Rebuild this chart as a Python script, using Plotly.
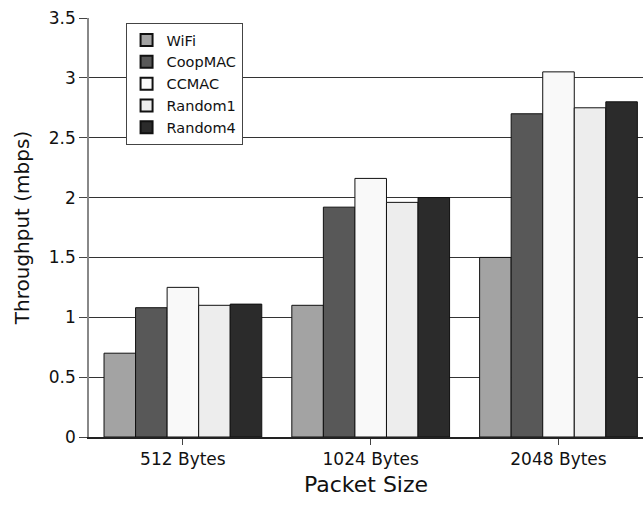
import plotly.graph_objects as go

categories = ["512 Bytes", "1024 Bytes", "2048 Bytes"]
series_names = ["WiFi", "CoopMAC", "CCMAC", "Random1", "Random4"]
wifi = [0.70, 1.10, 1.50]
coopmac = [1.08, 1.92, 2.70]
ccmac = [1.25, 2.16, 3.05]
random1 = [1.10, 1.96, 2.75]
random4 = [1.11, 2.00, 2.80]
values = [wifi, coopmac, ccmac, random1, random4]
colors = ["#a3a3a3", "#585858", "#f9f9f9", "#ededed", "#2b2b2b"]
y_ticks = [0, 0.5, 1, 1.5, 2, 2.5, 3, 3.5]
y_tick_text = ["0", "0.5", "1", "1.5", "2", "2.5", "3", "3.5"]

fig = go.Figure()
for name, vals, col in zip(series_names, values, colors):
    fig.add_trace(go.Bar(
        name=name, x=categories, y=vals,
        marker=dict(color=col, line=dict(color="#111111", width=1)),
    ))

font_family = "DejaVu Sans, Verdana, sans-serif"
fig.update_layout(
    width=643, height=505,
    barmode="group", bargap=0.16, bargroupgap=0,
    plot_bgcolor="white", paper_bgcolor="white",
    margin=dict(l=89, r=0, t=18, b=68),
    font=dict(family=font_family, color="#111111"),
    showlegend=True,
    legend=dict(
        x=0.066, y=0.988, xanchor="left", yanchor="top",
        bgcolor="white", bordercolor="#444444", borderwidth=1,
        font=dict(size=14.5, family=font_family),
        itemsizing="constant", itemwidth=30, tracegroupgap=0,
    ),
    xaxis=dict(
        type="category", range=[-0.5, 2.45], automargin=False,
        showline=True, linecolor="#222222", linewidth=1.5,
        ticks="outside", ticklen=6, tickcolor="#444444",
        tickfont=dict(size=17, family=font_family),
        title=dict(text="Packet Size", font=dict(size=22, family=font_family), standoff=8),
        showgrid=False,
    ),
    yaxis=dict(
        range=[0, 3.5], tickvals=y_ticks, ticktext=y_tick_text, automargin=False,
        showline=True, linecolor="#888888", linewidth=1.5,
        ticks="outside", ticklen=8, tickcolor="#444444",
        tickfont=dict(size=17, family=font_family),
        title=dict(text="Throughput (mbps)", font=dict(size=20, family=font_family), standoff=14),
        showgrid=True, gridcolor="#333333", gridwidth=1,
        zeroline=False,
    ),
)

fig.write_html("out.html", config={"displayModeBar": False},
               post_script="document.body.style.margin='0';")
